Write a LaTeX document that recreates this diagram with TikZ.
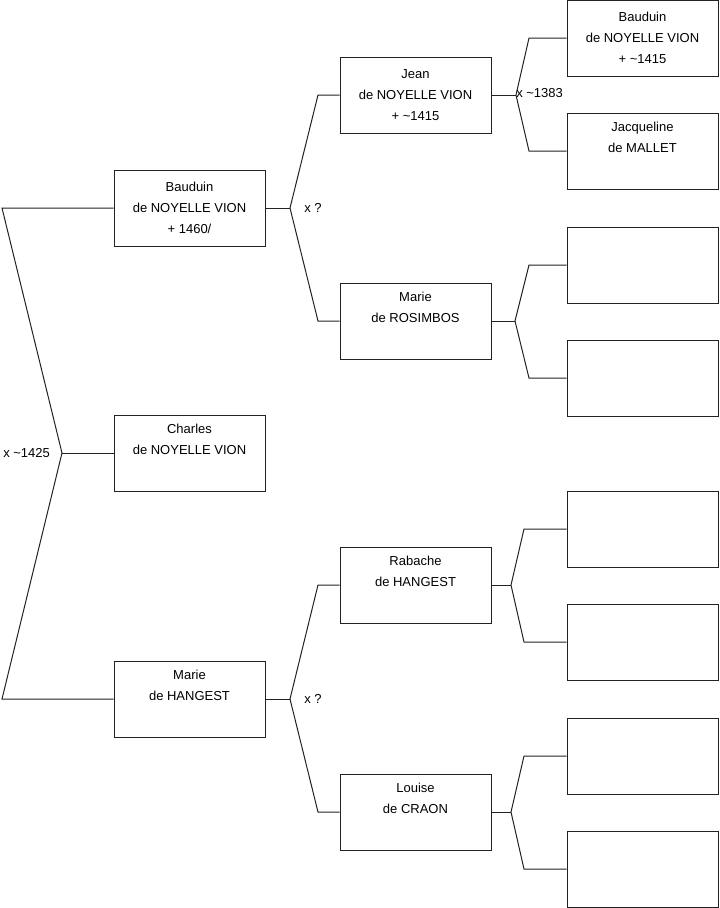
\documentclass[tikz,border=0pt]{standalone}
\usepackage{fontspec}
\setmainfont{Liberation Sans}
\usetikzlibrary{positioning}
\definecolor{ink}{HTML}{222222}
\tikzset{
  pers/.style={draw=ink,line width=.75pt,minimum width=113.25pt,minimum height=57pt,inner sep=0pt,align=center,font=\fontsize{9.75}{15.5}\selectfont},
  ln/.style={line width=.75pt,ink},
  mar/.style={font=\fontsize{9.75}{11}\selectfont,inner sep=0pt,anchor=west},
}

\begin{document}
\begin{tikzpicture}[x=0.75pt,y=-0.75pt]
\useasboundingbox (0,0) rectangle (719,908);
% generation 1
\node[pers] (b1) at (189.5,208) {Bauduin\\de NOYELLE VION\\+ 1460/};
\node[pers] (c1) at (189.5,453) {Charles\\de NOYELLE VION\\\strut};
\node[pers] (m1) at (189.5,699) {Marie\\de HANGEST\\\strut};
% generation 2
\node[pers] (j2) at (415.5,95) {Jean\\de NOYELLE VION\\+ \textasciitilde1415};
\node[pers] (r2) at (415.5,321) {Marie\\de ROSIMBOS\\\strut};
\node[pers] (h2) at (415.5,585) {Rabache\\de HANGEST\\\strut};
\node[pers] (l2) at (415.5,812) {Louise\\de CRAON\\\strut};
% generation 3
\node[pers] (g1) at (642.5,38) {Bauduin\\de NOYELLE VION\\+ \textasciitilde1415};
\node[pers] (g2) at (642.5,151) {Jacqueline\\de MALLET\\\strut};
\node[pers] (g3) at (642.5,265) {};
\node[pers] (g4) at (642.5,378) {};
\node[pers] (g5) at (642.5,529) {};
\node[pers] (g6) at (642.5,642) {};
\node[pers] (g7) at (642.5,756) {};
\node[pers] (g8) at (642.5,869) {};
% fork points
\coordinate (f0) at (62,453);
\coordinate (f1) at (290,208);
\coordinate (f2) at (290,699);
\coordinate (f3) at (516,95);
\coordinate (f4) at (515,321);
\coordinate (f5) at (511,585);
\coordinate (f6) at (511,812);
% marriages
\draw[ln] (b1.west) -- (2,208) -- (f0) -- (2,699) -- (m1.west);
\draw[ln] (f0) -- (c1.west);
\node[mar] (x0) at (3,453) {x \textasciitilde1425};
\draw[ln] (b1.east) -- (f1);
\draw[ln] (j2.west) -- (318,95) -- (f1) -- (318,321) -- (r2.west);
\node[mar] (x1) at (304,208) {x ?};
\draw[ln] (m1.east) -- (f2);
\draw[ln] (h2.west) -- (318,585) -- (f2) -- (318,812) -- (l2.west);
\node[mar] (x2) at (304,699) {x ?};
\draw[ln] (j2.east) -- (f3);
\draw[ln] (g1.west) -- (529,38) -- (f3) -- (529,151) -- (g2.west);
\node[mar] (x3) at (516,93) {x \textasciitilde1383};
\draw[ln] (r2.east) -- (f4);
\draw[ln] (g3.west) -- (529,265) -- (f4) -- (529,378) -- (g4.west);
\draw[ln] (h2.east) -- (f5);
\draw[ln] (g5.west) -- (524,529) -- (f5) -- (524,642) -- (g6.west);
\draw[ln] (l2.east) -- (f6);
\draw[ln] (g7.west) -- (524,756) -- (f6) -- (524,869) -- (g8.west);
\end{tikzpicture}
\end{document}
